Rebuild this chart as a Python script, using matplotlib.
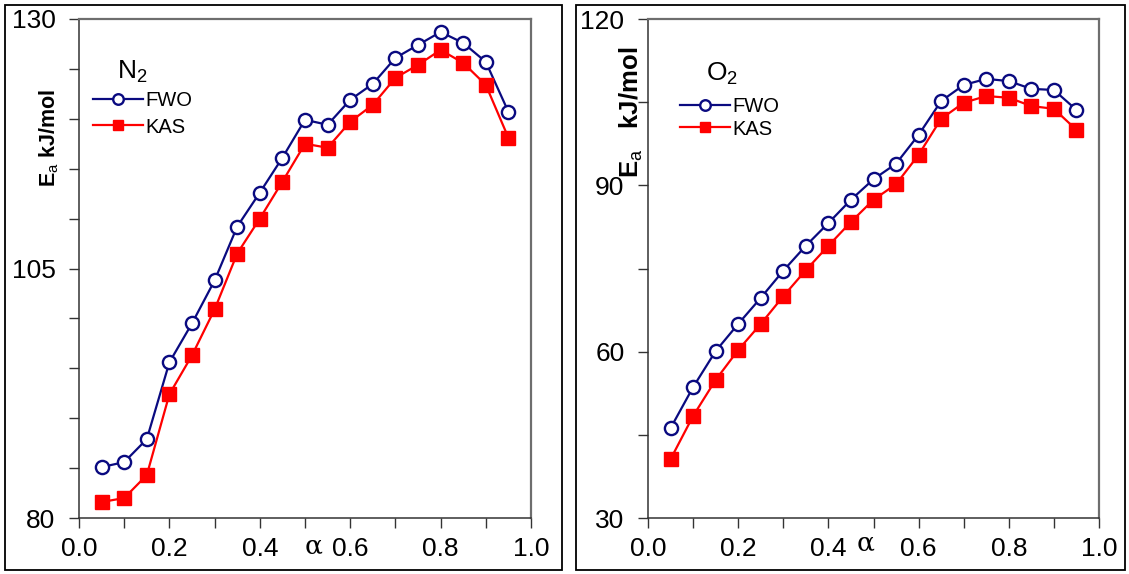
import numpy as np
import matplotlib
matplotlib.use("Agg")
import matplotlib.pyplot as plt
from matplotlib.patches import Rectangle
from matplotlib.ticker import MultipleLocator, FixedLocator

plt.rcParams["font.family"] = ["Liberation Sans", "DejaVu Sans"]
plt.rcParams["mathtext.fontset"] = "custom"
plt.rcParams["mathtext.rm"] = "Liberation Sans"
plt.rcParams["mathtext.bf"] = "Liberation Sans:bold"

ALPHA = [0.05, 0.10, 0.15, 0.20, 0.25, 0.30, 0.35, 0.40, 0.45, 0.50,
         0.55, 0.60, 0.65, 0.70, 0.75, 0.80, 0.85, 0.90, 0.95]

N2_FWO = [85.1, 85.6, 87.9, 95.6, 99.5, 103.8, 109.2, 112.6, 116.1, 119.9,
          119.4, 121.9, 123.5, 126.1, 127.4, 128.7, 127.6, 125.7, 120.7]
N2_KAS = [81.6, 82.0, 84.3, 92.4, 96.3, 100.9, 106.5, 110.0, 113.7, 117.5,
          117.1, 119.7, 121.4, 124.1, 125.4, 126.9, 125.6, 123.4, 118.1]

O2_FWO = [46.2, 53.6, 60.1, 65.0, 69.7, 74.6, 79.1, 83.2, 87.4, 91.1,
          93.9, 99.1, 105.2, 108.1, 109.2, 108.8, 107.4, 107.2, 103.6]
O2_KAS = [40.6, 48.4, 54.9, 60.3, 65.0, 70.0, 74.7, 79.1, 83.4, 87.4,
          90.2, 95.5, 102.0, 104.9, 106.1, 105.8, 104.3, 103.8, 100.0]

N2_YTICKS = [80, 105, 130]
O2_YTICKS = [30, 60, 90, 120]
XTICKS = [0.0, 0.2, 0.4, 0.6, 0.8, 1.0]

W, H = 1129, 574
NAVY = "#0a0a80"
RED = "#ff0000"


def px_rect(x0, y0, x1, y1):
    """pixel box (top-left origin) -> figure fraction [l, b, w, h]"""
    return [x0 / W, 1 - y1 / H, (x1 - x0) / W, (y1 - y0) / H]


def fxy(x, y):
    return x / W, 1 - y / H


def panel(fig, box, frame, ylim, yticks, yminor, gas, fwo, kas, leg_xy, leg_space,
          gas_xy, ylab, ylab_xy, ylab_size, alpha_xy):
    fr = px_rect(*frame)
    fig.patches.append(Rectangle((fr[0], fr[1]), fr[2], fr[3], transform=fig.transFigure,
                                 fill=False, ec="black", lw=1.3))
    ax = fig.add_axes(px_rect(*box))
    ax.plot(ALPHA, fwo, "-o", color=NAVY, lw=1.6, ms=9.5, mfc="white", mec=NAVY, mew=1.7,
            label="FWO", clip_on=False, zorder=3)
    ax.plot(ALPHA, kas, "-s", color=RED, lw=1.6, ms=9.5, mfc=RED, mec=RED,
            label="KAS", clip_on=False, zorder=3)
    ax.set_xlim(0, 1)
    ax.set_ylim(*ylim)
    ax.xaxis.set_major_locator(FixedLocator(XTICKS))
    ax.xaxis.set_minor_locator(MultipleLocator(0.1))
    ax.set_xticklabels([f"{v:.1f}" for v in XTICKS])
    ax.yaxis.set_major_locator(FixedLocator(yticks))
    ax.yaxis.set_minor_locator(MultipleLocator(yminor))
    ax.set_yticklabels([str(v) for v in yticks])
    ax.tick_params(which="both", direction="out", color="#333333", length=7, width=1.0,
                   top=False, right=False)
    ax.tick_params(axis="x", labelsize=19, pad=7)
    ax.tick_params(axis="y", labelsize=19, pad=10)
    for s in ("left", "bottom"):
        ax.spines[s].set_color("#333333"); ax.spines[s].set_linewidth(1.1)
    for s in ("top", "right"):
        ax.spines[s].set_color("#6e6e6e"); ax.spines[s].set_linewidth(1.6)

    ax.legend(loc="center left", bbox_to_anchor=fxy(*leg_xy),
              bbox_transform=fig.transFigure, frameon=False, fontsize=14.5,
              handlelength=2.5, handletextpad=0.1, labelspacing=leg_space,
              borderaxespad=0, borderpad=0, markerscale=0.8)
    fig.text(*fxy(*gas_xy), gas, fontsize=19, ha="left", va="center")
    fig.text(*fxy(*ylab_xy), ylab, rotation=90, fontsize=ylab_size, fontweight="bold",
             ha="center", va="center")
    fig.text(*fxy(*alpha_xy), "α", fontsize=19, ha="center", va="center",
             family="DejaVu Serif")
    return ax


fig = plt.figure(figsize=(W / 100, H / 100), dpi=100)

panel(fig, (79, 19, 531, 518), (5, 5, 562, 570), (80, 130), N2_YTICKS, 5,
      r"N$_2$", N2_FWO, N2_KAS, (93, 114), 0.35, (117, 72),
      r"E$_\mathrm{a}$ kJ/mol", (49, 138), 15.5, (314, 546))
panel(fig, (648, 19, 1099, 518), (576, 5, 1125, 570), (30, 120), O2_YTICKS, 15,
      r"O$_2$", O2_FWO, O2_KAS, (680, 118), 0.15, (706, 74),
      r"E$_\mathrm{a}$   kJ/mol", (631, 112), 18.5, (866, 543))

fig.savefig("out.png", dpi=100)
